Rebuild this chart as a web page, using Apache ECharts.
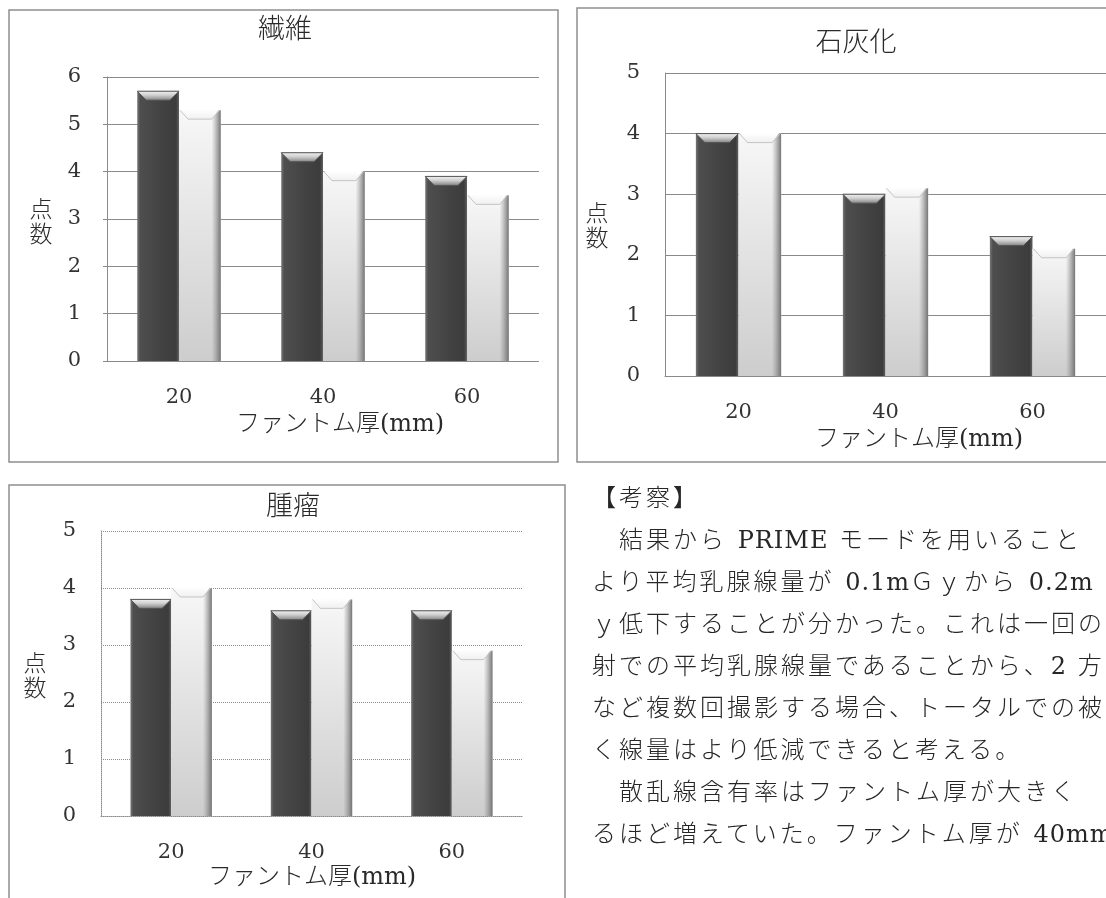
<!DOCTYPE html>
<html lang="ja">
<head>
<meta charset="utf-8">
<title>ファントム厚と点数</title>
<script src="https://cdn.jsdelivr.net/npm/echarts@6/dist/echarts.min.js"></script>
<style>
  html, body { margin: 0; padding: 0; background: #ffffff; overflow: hidden; }
  #chart { position: absolute; left: 0; top: 0; width: 1106px; height: 898px; }
  #notes { position: absolute; left: 592px; top: 0; width: 514px; height: 898px; overflow: hidden; pointer-events: none; }
  #notes div {
    position: absolute; left: 0; white-space: nowrap;
    font-family: "DejaVu Serif", "Noto Sans CJK JP", serif;
    font-weight: 300; font-size: 24px; line-height: 24px; letter-spacing: 3px; color: #262626;
  }
  #notes span.lat { letter-spacing: 1px; font-size: 24px; }
</style>
</head>
<body>
<div id="chart"></div>
<div id="notes"></div>
<script>
// Phantom thickness categories and observer scores (two modes per thickness)
const categories = ['20', '40', '60'];
const fiberA = [5.7, 4.4, 3.9];
const fiberB = [5.3, 4.0, 3.5];
const calcA = [4.0, 3.0, 2.3];
const calcB = [4.0, 3.1, 2.1];
const tumorA = [3.8, 3.6, 3.6];
const tumorB = [4.0, 3.8, 2.9];
const titles = ['繊維', '石灰化', '腫瘤'];
const yMax = [6, 5, 5];
const yName = '点\n数';
const xName = 'ファントム厚(mm)';

// Discussion text beside the charts
const noteLines = [
  '【考察】',
  '　結果から PRIME モードを用いること',
  'より平均乳腺線量が 0.1mＧｙから 0.2m',
  'ｙ低下することが分かった。これは一回の',
  '射での平均乳腺線量であることから、2 方',
  'など複数回撮影する場合、トータルでの被',
  'く線量はより低減できると考える。',
  '　散乱線含有率はファントム厚が大きく',
  'るほど増えていた。ファントム厚が 40mm'
];
const noteY = [486, 528, 570, 612, 654, 696, 738, 780, 822];

const notes = document.getElementById('notes');
noteLines.forEach((t, i) => {
  const d = document.createElement('div');
  // ASCII runs get tighter spacing than the full-width text
  t.split(/([\x21-\x7e]+)/).forEach(part => {
    if (!part) return;
    if (/^[\x21-\x7e]+$/.test(part)) {
      const s = document.createElement('span');
      s.className = 'lat';
      s.textContent = part;
      d.appendChild(s);
    } else {
      d.appendChild(document.createTextNode(part));
    }
  });
  d.style.top = noteY[i] + 'px';
  notes.appendChild(d);
});

const NUM_FONT = '"DejaVu Serif", "Noto Sans CJK JP", serif';
const JP_FONT = '"DejaVu Serif", "Noto Sans CJK JP", sans-serif';
const BAR_RATIO = 0.29;
const G = echarts.graphic;

// Dark bar: shaded column with a bright bevelled top
function renderDark(params, api) {
  const cat = api.value(0), val = api.value(1);
  const top = api.coord([cat, val]);
  const base = api.coord([cat, 0]);
  const band = api.size([1, 0])[0];
  const bw = band * BAR_RATIO;
  const x0 = top[0] - bw, x1 = top[0];
  const yT = top[1], yB = base[1];
  const b = Math.min(9, bw * 0.22);
  return {
    type: 'group',
    children: [
      { type: 'rect', shape: { x: x0, y: yT, width: bw, height: yB - yT },
        style: { fill: new G.LinearGradient(0, 0, 1, 0, [
          { offset: 0, color: '#767676' }, { offset: 0.07, color: '#4e4e4e' },
          { offset: 0.5, color: '#444444' }, { offset: 0.93, color: '#3c3c3c' },
          { offset: 1, color: '#626262' }]) } },
      { type: 'polygon', shape: { points: [[x0, yT], [x1, yT], [x1 - b, yT + b], [x0 + b, yT + b]] },
        style: { fill: new G.LinearGradient(0, 0, 0, 1, [
          { offset: 0, color: '#f4f4f4' }, { offset: 0.45, color: '#cfcfcf' },
          { offset: 1, color: '#7e7e7e' }]), stroke: '#555555', lineWidth: 1 } }
    ]
  };
}

// Light bar: pale column, darker right edge, concave top
function renderLight(params, api) {
  const cat = api.value(0), val = api.value(1);
  const top = api.coord([cat, val]);
  const base = api.coord([cat, 0]);
  const band = api.size([1, 0])[0];
  const bw = band * BAR_RATIO;
  const x0 = top[0], x1 = top[0] + bw;
  const yT = top[1], yB = base[1];
  const b = Math.min(9, bw * 0.22);
  return {
    type: 'group',
    children: [
      { type: 'rect', shape: { x: x0, y: yT, width: bw, height: yB - yT },
        style: { fill: new G.LinearGradient(0, 0, 0, 1, [
          { offset: 0, color: '#f7f7f7' }, { offset: 1, color: '#cdcdcd' }]) } },
      { type: 'rect', shape: { x: x0 + bw * 0.78, y: yT, width: bw * 0.22, height: yB - yT },
        style: { fill: new G.LinearGradient(0, 0, 1, 0, [
          { offset: 0, color: 'rgba(140,140,140,0)' }, { offset: 1, color: 'rgba(110,110,110,0.95)' }]) } },
      { type: 'polygon', shape: { points: [[x0 + 1, yT - 1], [x1 - 1.5, yT - 1], [x1 - b, yT + b], [x0 + b, yT + b]] },
        style: { fill: new G.LinearGradient(0, 0, 0, 1, [
          { offset: 0, color: '#ffffff' }, { offset: 1, color: '#f0f0f0' }]) } },
      { type: 'polyline', shape: { points: [[x1 - 1, yT], [x1 - b, yT + b], [x0 + b, yT + b], [x0 + 1, yT]] },
        style: { stroke: '#c4c4c4', lineWidth: 1, fill: null } }
    ]
  };
}

const grids = [
  { left: 107, top: 77, width: 432, height: 284 },
  { left: 665, top: 73, width: 453, height: 303 },
  { left: 101, top: 531, width: 421, height: 285 }
];
const lineTypes = ['solid', 'solid', 'dotted'];
const seriesPairs = [[fiberA, fiberB], [calcA, calcB], [tumorA, tumorB]];

const xAxes = grids.map((g, i) => ({
  type: 'category', gridIndex: i, data: categories,
  axisTick: { show: false },
  axisLine: { show: true, lineStyle: { color: '#8a8a8a', width: 1, type: i === 1 ? 'solid' : 'dotted' } },
  axisLabel: { margin: 26, fontFamily: NUM_FONT, fontSize: 21, color: '#333333' }
}));
const yAxes = grids.map((g, i) => ({
  type: 'value', gridIndex: i, min: 0, max: yMax[i], interval: 1,
  axisLine: { show: true, lineStyle: { color: '#8a8a8a', width: 1, type: lineTypes[i] } },
  axisTick: { show: i === 0, length: 4, lineStyle: { color: '#8a8a8a' } },
  axisLabel: { margin: i === 0 ? 26 : 25, fontFamily: NUM_FONT, fontSize: 21, color: '#333333' },
  splitLine: { show: true, lineStyle: { color: '#8a8a8a', width: 1, type: lineTypes[i] } }
}));

const series = [];
seriesPairs.forEach((pair, i) => {
  series.push({ type: 'custom', xAxisIndex: i, yAxisIndex: i, renderItem: renderDark,
    data: pair[0].map((v, k) => [k, v]), encode: { x: 0, y: 1 }, z: 3 });
  series.push({ type: 'custom', xAxisIndex: i, yAxisIndex: i, renderItem: renderLight,
    data: pair[1].map((v, k) => [k, v]), encode: { x: 0, y: 1 }, z: 3 });
});

// Chart frames, titles and axis names
const frames = [
  { x: 9, y: 10, width: 549, height: 452 },
  { x: 577, y: 8, width: 600, height: 454 },
  { x: 9, y: 485, width: 556, height: 500 }
];
const titlePos = [[285, 31], [856, 44], [293, 508]];
const yNamePos = [[41, 224], [597, 228], [35, 678]];
const xNamePos = [[340, 425], [919, 440], [312, 878]];

const graphics = [];
frames.forEach(f => graphics.push({ type: 'rect', shape: f, z: 0,
  style: { fill: null, stroke: '#8f8f8f', lineWidth: 1.5 } }));
titles.forEach((t, i) => graphics.push({ type: 'text', x: titlePos[i][0], y: titlePos[i][1], z: 5,
  style: { text: t, font: '300 27px ' + JP_FONT, fill: '#2a2a2a', align: 'center', verticalAlign: 'middle' } }));
yNamePos.forEach(p => graphics.push({ type: 'text', x: p[0], y: p[1], z: 5,
  style: { text: yName, font: '300 23px ' + JP_FONT, lineHeight: 25, fill: '#2a2a2a', align: 'center', verticalAlign: 'middle' } }));
xNamePos.forEach(p => graphics.push({ type: 'text', x: p[0], y: p[1], z: 5,
  style: { text: xName, font: '300 24px ' + JP_FONT, fill: '#2a2a2a', align: 'center', verticalAlign: 'middle' } }));

const chart = echarts.init(document.getElementById('chart'), null, { renderer: 'canvas' });
chart.setOption({
  animation: false,
  backgroundColor: '#ffffff',
  grid: grids.map(g => Object.assign({ containLabel: false }, g)),
  xAxis: xAxes,
  yAxis: yAxes,
  series: series,
  graphic: graphics
});
</script>
</body>
</html>
